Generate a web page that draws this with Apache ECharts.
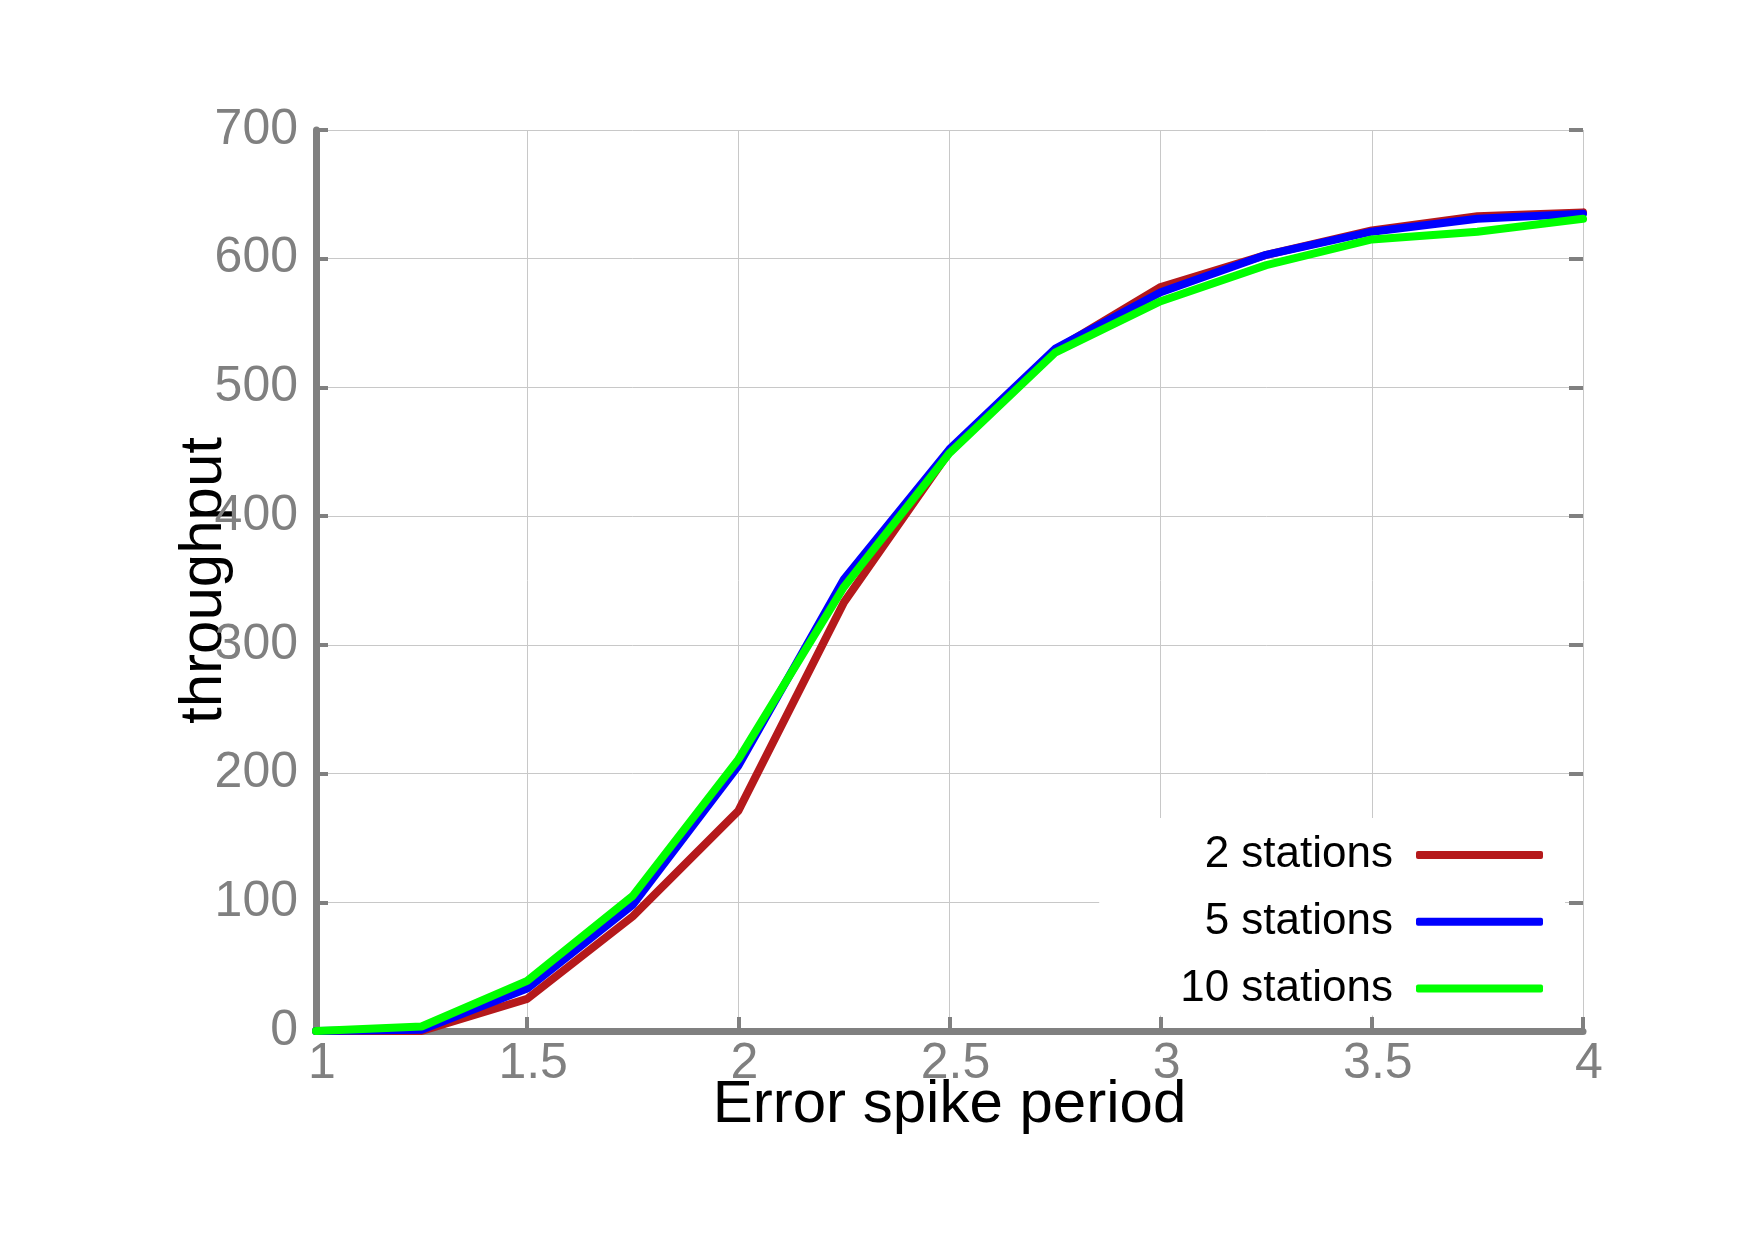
<!DOCTYPE html>
<html>
<head>
<meta charset="utf-8">
<script src="https://cdn.jsdelivr.net/npm/echarts@6/dist/echarts.min.js"></script>
<style>
  html, body { margin: 0; padding: 0; background: #fff; }
  #chart { width: 1755px; height: 1240px; }
</style>
</head>
<body>
<div id="chart"></div>
<script>
// error spike period (x values)
var periods = [1, 1.25, 1.5, 1.75, 2, 2.25, 2.5, 2.75, 3, 3.25, 3.5, 3.75, 4];

// throughput per number of stations
var two_stations = [0, 0, 25, 89, 171, 333, 450, 529, 578, 603, 622, 633, 636];
var five_stations = [0, 1, 33, 98, 206, 351, 452, 530, 574, 603, 621, 631, 635];
var ten_stations = [0, 3.5, 39, 105, 211, 345, 449, 527, 567, 595, 615, 621, 631];

var series_names = ['2 stations', '5 stations', '10 stations'];
var series_colors = ['#b5191b', '#0000ff', '#00ff00'];

var font = '"Liberation Sans", Arial, Helvetica, sans-serif';
var gray = '#808080';

function pairs(values) {
    return values.map(function (v, i) {
        return [periods[i], v];
    });
}

function makeSeries(name, values, color) {
    return {
        name: name,
        type: 'line',
        data: pairs(values),
        showSymbol: false,
        symbol: 'none',
        color: color,
        lineStyle: { width: 8, color: color, cap: 'round' },
        emphasis: { disabled: true },
        animation: false
    };
}

var chart = echarts.init(document.getElementById('chart'));

chart.setOption({
    backgroundColor: '#fff',
    animation: false,
    grid: { left: 316, right: 172, top: 130, bottom: 209 },
    legend: {
        orient: 'vertical',
        align: 'right',
        right: 190,
        top: 818,
        padding: [12, 22, 2, 81],
        backgroundColor: '#fff',
        itemWidth: 127,
        itemHeight: 8,
        itemGap: 16.7,
        icon: 'roundRect',
        textStyle: {
            fontFamily: font,
            fontSize: 44,
            color: '#000',
            lineHeight: 50,
            padding: [0, 18, 0, 0]
        },
        data: series_names
    },
    xAxis: {
        type: 'value',
        min: 1,
        max: 4,
        interval: 0.5,
        name: 'Error spike period',
        nameLocation: 'middle',
        nameGap: 44,
        nameMoveOverlap: false,
        nameTextStyle: { fontFamily: font, fontSize: 60, color: '#000' },
        axisLine: { lineStyle: { color: gray, width: 7, cap: 'round' } },
        axisTick: { inside: true, length: 14, lineStyle: { color: gray, width: 4 } },
        axisLabel: {
            fontFamily: font, fontSize: 50, color: gray, margin: 8,
            padding: [0, 0, 0, 12]
        },
        splitLine: { show: true, lineStyle: { color: '#c8c8c8', width: 1 } }
    },
    yAxis: [{
        type: 'value',
        min: 0,
        max: 700,
        interval: 100,
        name: 'throughput',
        nameLocation: 'middle',
        nameGap: 82,
        nameMoveOverlap: false,
        nameTextStyle: { fontFamily: font, fontSize: 60, color: '#000' },
        axisLine: { show: true, lineStyle: { color: gray, width: 7, cap: 'round' } },
        axisTick: { show: true, inside: true, length: 12, lineStyle: { color: gray, width: 4 } },
        axisLabel: { fontFamily: font, fontSize: 50, color: gray, margin: 18 },
        splitLine: { show: true, lineStyle: { color: '#c8c8c8', width: 1 } }
    }, {
        type: 'value',
        position: 'right',
        min: 0,
        max: 700,
        interval: 100,
        axisLine: { show: false },
        axisTick: { show: true, inside: true, length: 14, lineStyle: { color: gray, width: 4 } },
        axisLabel: { show: false },
        splitLine: { show: false }
    }],
    series: [
        makeSeries(series_names[0], two_stations, series_colors[0]),
        makeSeries(series_names[1], five_stations, series_colors[1]),
        makeSeries(series_names[2], ten_stations, series_colors[2])
    ]
});
</script>
</body>
</html>
